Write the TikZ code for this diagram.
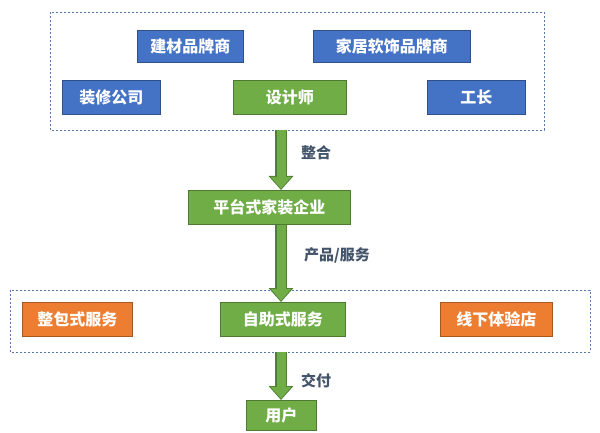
\documentclass[tikz,border=0pt]{standalone}
\usepackage{fontspec}
\setmainfont{Noto Sans CJK SC}
\usetikzlibrary{arrows.meta}
\definecolor{bl}{HTML}{4472C4}
\definecolor{gr}{HTML}{70AD47}
\definecolor{dg}{HTML}{507E32}
\definecolor{og}{HTML}{ED7D31}
\definecolor{lab}{HTML}{44546A}
\begin{document}
\begin{tikzpicture}[x=1pt,y=-1pt,
 box/.style={draw=#1!70!black,fill=#1,line width=0.8pt,text=white,font=\bfseries\fontsize{16}{16}\selectfont,inner sep=0pt,anchor=north west},
 grp/.style={draw=bl!70!gray,dash pattern=on 2pt off 2pt,line width=0.6pt},
 lbl/.style={text=lab,font=\bfseries\fontsize{15}{15}\selectfont},
 fa/.style={line width=12pt,dg,-{Triangle[length=14pt,width=24pt]}},
 fb/.style={line width=9pt,gr,-{Triangle[length=12pt,width=20pt]},shorten >=1.2pt}]
\useasboundingbox (0,0) rectangle (600,433);
\draw[grp] (50,12) rectangle (544,130);
\draw[grp] (10,290) rectangle (590,352);
\node[box=bl,minimum width=106pt,minimum height=32pt] (a) at (137,30) {建材品牌商};
\node[box=bl,minimum width=157pt,minimum height=32pt] (b) at (313,30) {家居软饰品牌商};
\node[box=bl,minimum width=98pt,minimum height=34pt] (c) at (62,80) {装修公司};
\node[box=gr,minimum width=113pt,minimum height=34pt] (d) at (233,80) {设计师};
\node[box=bl,minimum width=98pt,minimum height=34pt] (e) at (427,80) {工长};
\node[box=gr,minimum width=162pt,minimum height=34pt] (p) at (188,190) {平台式家装企业};
\node[box=og,minimum width=110pt,minimum height=34pt] (s1) at (22,302) {整包式服务};
\node[box=gr,minimum width=125pt,minimum height=34pt] (s2) at (220,302) {自助式服务};
\node[box=og,minimum width=112pt,minimum height=34pt] (s3) at (440,302) {线下体验店};
\node[box=gr,minimum width=70pt,minimum height=30pt] (u) at (246,400) {用户};
\coordinate (t1) at (281,130); \coordinate (t2) at (281,352);
\draw[fa] (t1) -- (281,190);
\draw[fb] (t1) -- (281,190);
\draw[fa] (p.south -| t1) -- (281,302);
\draw[fb] (p.south -| t1) -- (281,302);
\draw[fa] (t2) -- (281,400);
\draw[fb] (t2) -- (281,400);
\node[lbl] (l1) at (316,153) {整合};
\node[lbl] (l2) at (337,255) {产品/服务};
\node[lbl] (l3) at (316,381) {交付};
\end{tikzpicture}
\end{document}
